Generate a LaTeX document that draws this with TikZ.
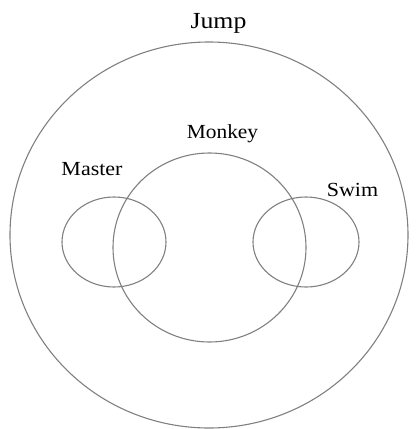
\documentclass[tikz,border=0pt]{standalone}
\usepackage{fontspec}
\setmainfont{Liberation Serif}
\usetikzlibrary{shapes.geometric}
\begin{document}
\begin{tikzpicture}[x=1pt,y=-1pt,
  setshape/.style={draw=black!50, line width=1.1pt, ellipse, inner sep=0pt, minimum width=#1},
  lbl/.style={anchor=base, inner sep=0pt, font=\fontsize{20}{24}\selectfont}]
\useasboundingbox (0,0) rectangle (417,429);
\node[setshape=398pt, minimum height=386pt] (jumpset) at (209,235) {};
\node[setshape=193pt, minimum height=189pt] (monkeyset) at (209.5,247.5) {};
\node[setshape=104pt, minimum height=90pt] (masterset) at (114,242) {};
\node[setshape=106pt, minimum height=90pt] (swimset) at (306,242) {};
\node[lbl, font=\fontsize{23}{27}\selectfont] (jump) at (218.5,28) {\scalebox{1.12}[1]{Jump}};
\node[lbl] (monkey) at (222.5,138) {\scalebox{1.07}[1]{Monkey}};
\node[lbl] (master) at (92,175) {\scalebox{1.1}[1]{Master}};
\node[lbl] (swim) at (352.5,196) {\scalebox{1.1}[1]{Swim}};
\end{tikzpicture}
\end{document}
